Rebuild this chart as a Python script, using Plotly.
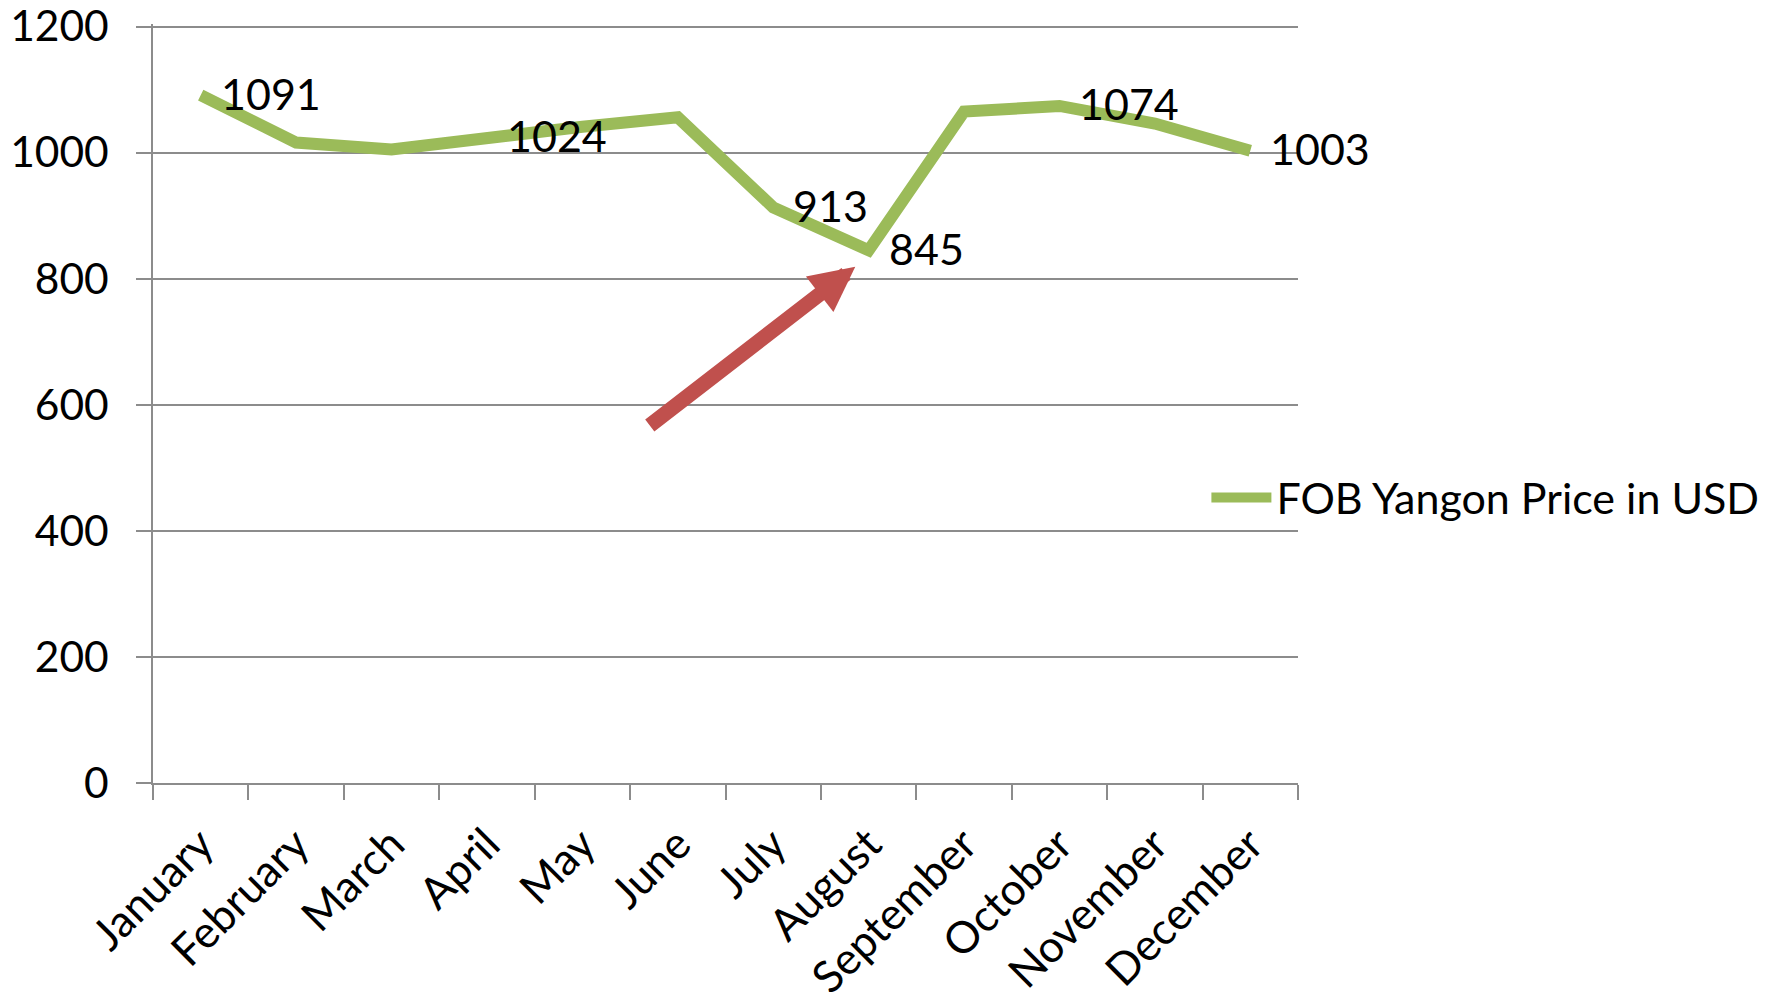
import plotly.graph_objects as go

months = ["January", "February", "March", "April", "May", "June",
          "July", "August", "September", "October", "November", "December"]
prices = [1091, 1016, 1005, 1024, 1041, 1056, 913, 845, 1065, 1074, 1046, 1003]
labeled = ["January", "April", "July", "August", "October", "December"]
series_name = "FOB Yangon Price in USD"
y_ticks = [0, 200, 400, 600, 800, 1000, 1200]

FONT = "Lato"
GREEN = "#9BBB59"
GRID = "#8C8C8C"

fig = go.Figure()
fig.add_trace(go.Scatter(
    x=months, y=prices, mode="lines", name=series_name,
    line=dict(color=GREEN, width=12),
))

annotations = []
for m, v in zip(months, prices):
    if m in labeled:
        annotations.append(dict(
            x=m, y=v, xref="x", yref="y", text=str(v), showarrow=False,
            xanchor="left", yanchor="middle", xshift=18, yshift=2,
            font=dict(family=FONT, size=43, color="black"),
        ))

# red arrow pointing at the August low
annotations.append(dict(
    x=6.86, y=819, xref="x", yref="y", text="", showarrow=True,
    ax=-207, ay=160, axref="pixel", ayref="pixel",
    arrowhead=2, arrowsize=0.6, arrowwidth=15, arrowcolor="#C0504D",
))

fig.update_layout(
    width=1777, height=999,
    paper_bgcolor="white", plot_bgcolor="white",
    margin=dict(l=153, r=479, t=24, b=216),
    font=dict(family=FONT, size=43, color="black"),
    showlegend=True,
    legend=dict(x=0.92, y=0.376, xanchor="left", yanchor="middle",
                itemwidth=60,
                font=dict(family=FONT, size=43, color="black"),
                bgcolor="rgba(0,0,0,0)"),
    annotations=annotations,
    xaxis=dict(
        type="category", range=[-0.5, 11.5], tickangle=-45,
        automargin=False, ticklabeloverflow="allow",
        showline=True, linecolor=GRID, linewidth=1.5,
        ticks="outside", ticklen=15, tickcolor=GRID, tickwidth=1.5,
        tickson="boundaries", showgrid=False, ticklabelstandoff=16,
        tickfont=dict(family=FONT, size=44),
    ),
    yaxis=dict(
        range=[0, 1204], tickvals=y_ticks, ticktext=[str(t) for t in y_ticks],
        automargin=False, ticklabeloverflow="allow",
        showline=True, linecolor=GRID, linewidth=1.5,
        ticks="outside", ticklen=15, tickcolor=GRID, tickwidth=1.5,
        showgrid=True, gridcolor=GRID, gridwidth=1.5, zeroline=False,
        ticklabelstandoff=19,
        tickfont=dict(family=FONT, size=42.5),
    ),
)

fig.write_html(
    "out.html",
    config={"displayModeBar": False},
    post_script="document.body.style.margin='0';document.body.style.overflow='hidden';",
)
